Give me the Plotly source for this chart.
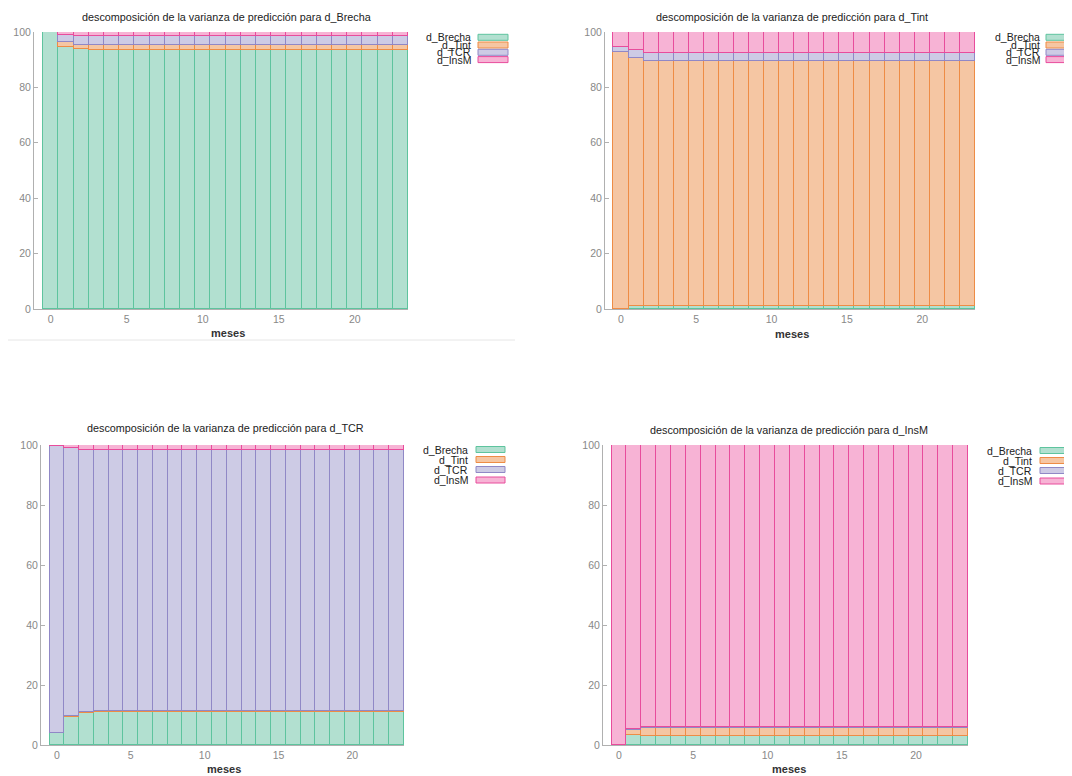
import plotly.graph_objects as go

W, H = 1072, 776
OFF = 8  # page body margin in the browser
meses = list(range(24))
series_names = ["d_Brecha", "d_Tint", "d_TCR", "d_InsM"]

# Panel 1: d_Brecha
p1_brecha = [100.0, 94.7, 93.9] + [93.5] * 21
p1_tint = [0.0, 1.8, 1.5] + [1.8] * 21
p1_tcr = [0.0, 2.4, 3.1] + [3.3] * 21
p1_insm = [0.0, 1.1, 1.5] + [1.4] * 21

# Panel 2: d_Tint
p2_brecha = [0.0, 1.0] + [1.1] * 22
p2_tint = [92.9, 89.5] + [88.5] * 22
p2_tcr = [1.6, 3.0] + [2.9] * 22
p2_insm = [5.5, 6.5] + [7.5] * 22

# Panel 3: d_TCR
p3_brecha = [4.1, 9.2, 10.6] + [10.9] * 21
p3_tint = [0.0, 0.5, 0.3] + [0.3] * 21
p3_tcr = [95.6, 89.2, 87.4] + [87.1] * 21
p3_insm = [0.3, 1.1, 1.7] + [1.7] * 21

# Panel 4: d_InsM
p4_brecha = [0.0, 3.3] + [3.1] * 22
p4_tint = [0.0, 1.7] + [2.5] * 22
p4_tcr = [0.0, 0.3] + [0.5] * 22
p4_insm = [100.0, 94.7] + [93.9] * 22

titles = [
    "descomposición de la varianza de predicción para d_Brecha",
    "descomposición de la varianza de predicción para d_Tint",
    "descomposición de la varianza de predicción para d_TCR",
    "descomposición de la varianza de predicción para d_InsM",
]
xlabel = "meses"
xticks = [0, 5, 10, 15, 20]
yticks = [0, 20, 40, 60, 80, 100]

fills = ["#b2e0d0", "#f5c6a3", "#cdcbe5", "#f7b3d5"]
edges = ["#5ec49e", "#ee8c45", "#9088c6", "#e84c9c"]

panels = [
    [p1_brecha, p1_tint, p1_tcr, p1_insm],
    [p2_brecha, p2_tint, p2_tcr, p2_insm],
    [p3_brecha, p3_tint, p3_tcr, p3_insm],
    [p4_brecha, p4_tint, p4_tcr, p4_insm],
]

# pixel layout in screenshot coords: (x0, x1, ytop, ybottom, xrange_start)
geo = [
    (34, 408, 32, 309, -1.1),
    (605, 975, 32, 309, -1.06),
    (41, 404, 445, 745, -1.08),
    (603, 968, 445, 745, -1.08),
]
title_pos = [(226, 17), (792, 17), (225, 428), (789, 430)]
xlab_pos = [(228, 333), (792, 334), (224, 769), (789, 769)]
legend_pos = [  # text right x, swatch x0, x1, row y list
    (473, 478, 508, [37.3, 45, 52.3, 59.6]),
    (1042, 1046, 1076, [37.3, 45, 52.3, 59.6]),
    (470, 476, 505, [449.5, 459.5, 469.5, 480]),
    (1034, 1040, 1068, [450.5, 460.5, 470.5, 481]),
]

FONT = "Liberation Sans, Arial, sans-serif"

def px(x):
    return (x - OFF) / W

def py(y):
    return 1 - (y - OFF) / H

fig = go.Figure()
layout = dict(
    width=W, height=H, margin=dict(l=0, r=0, t=0, b=0, pad=0, autoexpand=False),
    paper_bgcolor="white", plot_bgcolor="white",
    barmode="stack", bargap=0, showlegend=False,
    font=dict(family=FONT, size=10, color="#333"),
)
annotations = []
shapes = []

for i, (data, g) in enumerate(zip(panels, geo)):
    n = "" if i == 0 else str(i + 1)
    xa, ya = "x" + n, "y" + n
    for s, vals in enumerate(data):
        fig.add_trace(go.Bar(
            x=meses, y=vals, name=series_names[s], xaxis=xa, yaxis=ya,
            width=1, marker=dict(color=fills[s], line=dict(color=edges[s], width=1)),
            offsetgroup=str(i),
        ))
    x0, x1, yt, yb, xr = g
    layout["xaxis" + n] = dict(
        domain=[px(x0), px(x1)], anchor=ya, range=[xr, 23.5], automargin=False,
        tickvals=xticks, ticks="", showgrid=False, zeroline=False,
        showline=True, linecolor="#b0b0b0", linewidth=1,
        tickfont=dict(size=10.5, color="#888"),
    )
    layout["yaxis" + n] = dict(
        domain=[py(yb), py(yt)], anchor=xa, range=[0, 100], automargin=False,
        tickvals=yticks, ticks="inside", ticklen=4, tickcolor="#b0b0b0",
        showgrid=False, zeroline=False,
        showline=True, linecolor="#b0b0b0", linewidth=1,
        tickfont=dict(size=10.5, color="#888"),
    )
    tx, ty = title_pos[i]
    annotations.append(dict(text=titles[i], x=px(tx), y=py(ty), xref="paper", yref="paper",
                            showarrow=False, xanchor="center", yanchor="middle",
                            font=dict(size=10.8, color="#222")))
    lx, ly = xlab_pos[i]
    annotations.append(dict(text="<b>" + xlabel + "</b>", x=px(lx), y=py(ly), xref="paper", yref="paper",
                            showarrow=False, xanchor="center", yanchor="middle",
                            font=dict(size=11, color="#333")))
    trx, sx0, sx1, rows = legend_pos[i]
    for s, ry in enumerate(rows):
        annotations.append(dict(text=series_names[s], x=px(trx), y=py(ry), xref="paper", yref="paper",
                                showarrow=False, xanchor="right", yanchor="middle",
                                font=dict(size=10.5, color="#222")))
        shapes.append(dict(type="rect", xref="paper", yref="paper",
                           x0=px(sx0), x1=px(sx1), y0=py(ry + 3), y1=py(ry - 3),
                           fillcolor=fills[s], line=dict(color=edges[s], width=1)))

shapes.append(dict(type="line", xref="paper", yref="paper",
                   x0=px(8), x1=px(515), y0=py(340), y1=py(340),
                   line=dict(color="#e6e6e6", width=1)))

layout["annotations"] = annotations
layout["shapes"] = shapes
fig.update_layout(**layout)
fig.write_html("out.html")
